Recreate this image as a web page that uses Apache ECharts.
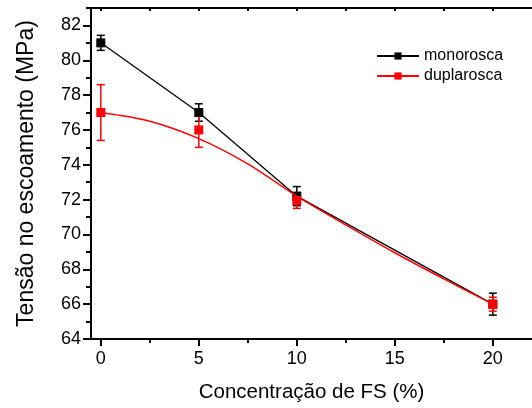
<!DOCTYPE html>
<html>
<head>
<meta charset="utf-8">
<script src="https://cdn.jsdelivr.net/npm/echarts@6/dist/echarts.min.js"></script>
<style>
html,body{margin:0;padding:0;background:#fff;}
#c{width:532px;height:408px;}
</style>
</head>
<body>
<div id="c"></div>
<script>
// ---- data ----
var concX = [0, 5, 10, 20];
var monoVals = [81.0, 77.0, 72.2, 66.0];
var monoErr = [0.43, 0.5, 0.55, 0.63];
var duplaVals = [77.0, 76.0, 71.95, 66.0];
var duplaErr = [1.6, 1.0, 0.45, 0.4];
// fitted curve
var fitX = [0, 2.5, 5, 7.5, 10, 12.5, 15, 17.5, 20];
var fitY = [77.0, 76.5, 75.5, 74.05, 72.2, 70.55, 68.95, 67.45, 66.0];
var xMajorTicks = [0, 5, 10, 15, 20];
var xMinorTicks = [2.5, 7.5, 12.5, 17.5];
var yMajorTicks = [64, 66, 68, 70, 72, 74, 76, 78, 80, 82];
var yMinorTicks = [65, 67, 69, 71, 73, 75, 77, 79, 81, 83];
var seriesNames = ['monorosca', 'duplarosca'];
var xTitle = 'Concentração de FS (%)';
var yTitle = 'Tensão no escoamento (MPa)';

var FONT = '"Liberation Sans", Arial, sans-serif';
function pairs(xs, ys) { return xs.map(function (x, i) { return [x, ys[i]]; }); }
function errData(xs, ys, es) { return xs.map(function (x, i) { return [x, ys[i] - es[i], ys[i] + es[i]]; }); }
function errSeries(data, color) {
  return {
    type: 'custom', silent: true, z: 2,
    data: data,
    encode: { x: 0, y: [1, 2] },
    renderItem: function (params, api) {
      var x = api.value(0);
      var lo = api.coord([x, api.value(1)]);
      var hi = api.coord([x, api.value(2)]);
      var w = 4;
      var st = { stroke: color, lineWidth: 1.5 };
      return {
        type: 'group',
        children: [
          { type: 'line', shape: { x1: lo[0], y1: lo[1], x2: hi[0], y2: hi[1] }, style: st },
          { type: 'line', shape: { x1: lo[0] - w, y1: lo[1], x2: lo[0] + w, y2: lo[1] }, style: st },
          { type: 'line', shape: { x1: hi[0] - w, y1: hi[1], x2: hi[0] + w, y2: hi[1] }, style: st }
        ]
      };
    }
  };
}

var axisLineStyle = { color: '#000', width: 2 };
var chart = echarts.init(document.getElementById('c'), null, { renderer: 'canvas' });
var grid = { left: 91, top: 8, width: 443, height: 333, containLabel: false };

var option = {
  backgroundColor: '#fff',
  animation: false,
  textStyle: { fontFamily: FONT },
  grid: grid,
  legend: {
    data: seriesNames,
    orient: 'vertical',
    left: 376, top: 48, padding: 0,
    itemWidth: 42, itemHeight: 9, itemGap: 4,
    textStyle: { fontFamily: FONT, fontSize: 16, color: '#000' }
  },
  xAxis: [
    {
      type: 'value', min: -0.5, max: 22, position: 'bottom',
      name: xTitle, nameLocation: 'middle', nameGap: 43,
      nameTextStyle: { fontFamily: FONT, fontSize: 20.5, color: '#000' },
      axisLine: { onZero: false, lineStyle: axisLineStyle },
      axisTick: { show: true, customValues: xMajorTicks, length: 7, inside: false, lineStyle: { color: '#000', width: 2 } },
      axisLabel: { customValues: xMajorTicks, fontFamily: FONT, fontSize: 18, color: '#000', margin: 11 },
      splitLine: { show: false }
    },
    {
      type: 'value', min: -0.5, max: 22, position: 'bottom',
      axisLine: { show: false, onZero: false },
      axisTick: { show: true, customValues: xMinorTicks, length: 4, lineStyle: { color: '#000', width: 2 } },
      axisLabel: { show: false },
      splitLine: { show: false }
    },
    {
      type: 'value', min: -0.5, max: 22, position: 'top',
      axisLine: { onZero: false, lineStyle: axisLineStyle },
      axisTick: { show: true, inside: true, customValues: xMajorTicks.concat(xMinorTicks), length: 3, lineStyle: { color: '#000', width: 2 } },
      axisLabel: { show: false },
      splitLine: { show: false }
    }
  ],
  yAxis: [
    {
      type: 'value', min: 64, max: 83, position: 'left',
      name: yTitle, nameLocation: 'middle', nameGap: 53, nameRotate: 90,
      nameTextStyle: { fontFamily: FONT, fontSize: 23, color: '#000' },
      axisLine: { onZero: false, lineStyle: axisLineStyle },
      axisTick: { show: true, customValues: yMajorTicks, length: 8, lineStyle: { color: '#000', width: 2 } },
      axisLabel: { customValues: yMajorTicks, fontFamily: FONT, fontSize: 18, color: '#000', margin: 10 },
      splitLine: { show: false }
    },
    {
      type: 'value', min: 64, max: 83, position: 'left',
      axisLine: { show: false, onZero: false },
      axisTick: { show: true, customValues: yMinorTicks, length: 5, lineStyle: { color: '#000', width: 2 } },
      axisLabel: { show: false },
      splitLine: { show: false }
    }
  ],
  series: [
    errSeries(errData(concX, monoVals, monoErr), '#000'),
    {
      name: seriesNames[0], type: 'line', z: 3,
      data: pairs(concX, monoVals),
      symbol: 'rect', symbolSize: 9,
      lineStyle: { color: '#000', width: 1.3 },
      itemStyle: { color: '#000' }
    },
    errSeries(errData(concX, duplaVals, duplaErr), '#ff0000'),
    {
      name: seriesNames[1], type: 'line', z: 4,
      data: pairs(fitX, fitY),
      smooth: 0.3,
      symbol: 'rect', symbolSize: 9, showSymbol: false,
      lineStyle: { color: '#ff0000', width: 1.5 },
      itemStyle: { color: '#ff0000' }
    },
    {
      name: 'duplarosca-pts', type: 'scatter', z: 5,
      data: pairs(concX, duplaVals),
      symbol: 'rect', symbolSize: 9,
      itemStyle: { color: '#ff0000', opacity: 1 }
    }
  ]
};
chart.setOption(option);
</script>
</body>
</html>
